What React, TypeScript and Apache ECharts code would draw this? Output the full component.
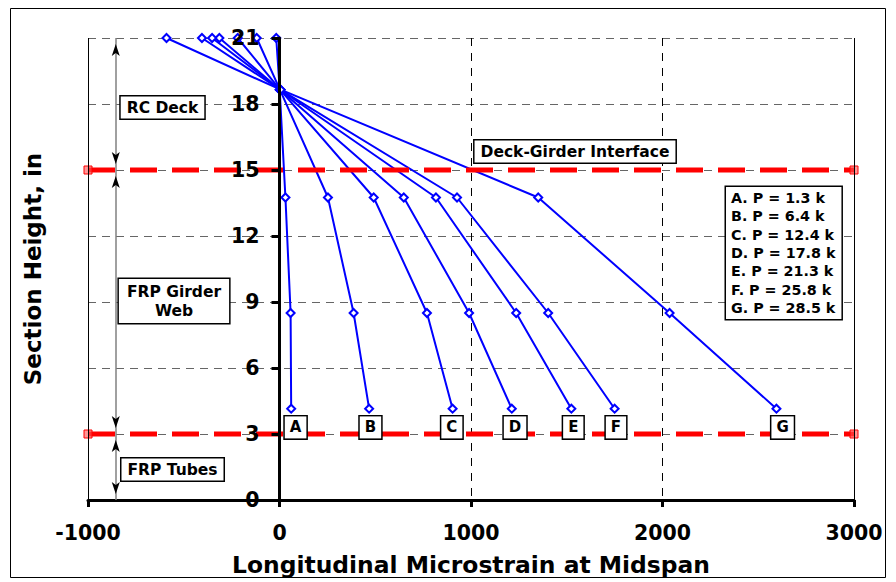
import React, { useEffect, useRef } from "react";
import * as echarts from "echarts";

// ---- data ----
const heights = [21, 18.65, 13.75, 8.5, 4.15];
const letters = ["A", "B", "C", "D", "E", "F", "G"];
const loadsK = ["1.3", "6.4", "12.4", "17.8", "21.3", "25.8", "28.5"];
const strainA = [-17, 1, 31, 58, 61];
const strainB = [-119, 2, 253, 387, 468];
const strainC = [-218, 3, 492, 770, 904];
const strainD = [-314, 3, 649, 990, 1213];
const strainE = [-352, 4, 817, 1236, 1524];
const strainF = [-405, 4, 927, 1403, 1750];
const strainG = [-590, 6, 1351, 2037, 2595];
const strainSets = [strainA, strainB, strainC, strainD, strainE, strainF, strainG];
const interfaceHeights = [15, 3];
const letterLabelX = [84, 475, 900, 1230, 1534, 1757, 2627];
const letterLabelY = 3.3;
const xTickMin = -1000;
const xTickMax = 3000;
const xTickStep = 1000;
const yTickMin = 0;
const yTickMax = 21;
const yTickStep = 3;
const zoneArrowX = -855;
const zoneBounds = [21, 15, 3, 0];

const FONT = "'DejaVu Sans', Verdana, sans-serif";
const GRID_LEFT = 88;
const GRID_RIGHT = 42;
const CHART_W = 896;
const CHART_H = 582;

export default function App() {
  const ref = useRef<HTMLDivElement>(null);

  useEffect(() => {
    if (!ref.current) return;
    const chart = echarts.init(ref.current, undefined, { renderer: "svg" });

    const gridWidth = CHART_W - GRID_LEFT - GRID_RIGHT;
    // y axis sits at strain = 0
    const yAxisOffset = -gridWidth * (0 - xTickMin) / (xTickMax - xTickMin);

    const lineSeries = strainSets.map((s, i) => ({
      name: letters[i],
      type: "line",
      data: s.map((x, j) => [x, heights[j]]),
      symbol: "emptyDiamond",
      symbolSize: 8,
      lineStyle: { color: "#0000ff", width: 2 },
      itemStyle: { color: "#0000ff", borderWidth: 1.5 },
      z: 3,
    }));

    const redStyle = {
      type: "line",
      symbol: "rect",
      symbolSize: 8,
      lineStyle: { color: "#ff0000", width: 5, type: [27, 15] },
      itemStyle: { color: "rgba(255,80,80,0.6)", borderColor: "#ff0000", borderWidth: 1 },
      z: 4,
      silent: true,
    };

    const arrowPairs: any[] = [];
    for (let i = 0; i < zoneBounds.length - 1; i++) {
      const inset = 0.27;
      arrowPairs.push([
        { coord: [zoneArrowX, zoneBounds[i] - inset] },
        { coord: [zoneArrowX, zoneBounds[i + 1] + inset] },
      ]);
    }

    const option: any = {
      animation: false,
      grid: { left: GRID_LEFT, right: GRID_RIGHT, top: 38, bottom: 82, containLabel: false },
      xAxis: {
        type: "value",
        min: xTickMin,
        max: xTickMax,
        interval: xTickStep,
        name: "Longitudinal Microstrain at Midspan",
        nameLocation: "middle",
        nameGap: 53,
        nameTextStyle: { fontFamily: FONT, fontWeight: "bold", fontSize: 23.4, color: "#000" },
        axisLine: { show: true, onZero: false, lineStyle: { color: "#000", width: 3 } },
        axisTick: { show: true, length: 7, lineStyle: { color: "#000", width: 3 } },
        axisLabel: {
          margin: 22,
          fontFamily: FONT,
          fontWeight: "bold",
          fontSize: 20.5,
          color: "#000",
          formatter: (v: number) => String(v),
        },
        splitLine: { show: true, lineStyle: { color: "#000", width: 1, type: [8, 7] } },
      },
      yAxis: [
        {
          type: "value",
          position: "left",
          min: yTickMin,
          max: yTickMax,
          interval: yTickStep,
          axisLine: { show: false, onZero: false },
          axisTick: { show: false },
          axisLabel: { show: false },
          splitLine: { show: true, lineStyle: { color: "#666", width: 1, type: [8, 6] } },
        },
        {
          type: "value",
          position: "left",
          offset: yAxisOffset,
          min: yTickMin,
          max: yTickMax,
          interval: yTickStep,
          z: 10,
          axisLine: { show: true, onZero: false, lineStyle: { color: "#000", width: 3 } },
          axisTick: { show: true, length: 8, lineStyle: { color: "#000", width: 3 } },
          axisLabel: {
            margin: 20,
            fontFamily: FONT,
            fontWeight: "bold",
            fontSize: 20.5,
            color: "#000",
            formatter: (v: number) => String(v),
          },
          splitLine: { show: false },
        },
      ],
      series: [
        ...lineSeries,
        {
          ...redStyle,
          name: "interface15",
          data: [[xTickMin, interfaceHeights[0]], [xTickMax, interfaceHeights[0]]],
          markLine: {
            silent: true,
            symbol: "none",
            label: { show: false },
            data: [
              { xAxis: xTickMin, lineStyle: { color: "#000", width: 1, type: "solid" } },
              { xAxis: xTickMax, lineStyle: { color: "#000", width: 1, type: "solid" } },
              { xAxis: zoneArrowX, lineStyle: { color: "#808080", width: 1.5, type: "solid" } },
            ],
          },
        },
        {
          ...redStyle,
          name: "interface3",
          data: [[xTickMin, interfaceHeights[1]], [xTickMax, interfaceHeights[1]]],
          markLine: {
            silent: true,
            symbol: ["arrow", "arrow"],
            symbolSize: [6, 12],
            label: { show: false },
            lineStyle: { color: "#000", width: 0, type: "solid" },
            data: arrowPairs,
          },
        },
        {
          name: "letters",
          type: "scatter",
          data: letterLabelX.map((x) => [x, letterLabelY]),
          symbolSize: 0,
          z: 6,
          silent: true,
          itemStyle: { opacity: 1, color: "#fff" },
          label: {
            show: true,
            position: "inside",
            formatter: (p: any) => letters[p.dataIndex],
            fontFamily: FONT,
            fontWeight: "bold",
            fontSize: 15,
            color: "#000",
            backgroundColor: "#fff",
            borderColor: "#000",
            borderWidth: 1.5,
            padding: [4, 5, 3, 5],
          },
        },
      ],
      graphic: [
        {
          type: "rect",
          shape: { x: 10.5, y: 8.5, width: 875, height: 569 },
          style: { fill: "none", stroke: "#000", lineWidth: 1 },
          silent: true,
        },
        {
          type: "text",
          x: 33,
          y: 269,
          rotation: Math.PI / 2,
          style: {
            text: "Section Height, in",
            font: `bold 23px ${FONT}`,
            fill: "#000",
            align: "center",
            verticalAlign: "middle",
            textAlign: "center",
            textVerticalAlign: "middle",
          },
        },
        {
          type: "text",
          x: 162.5,
          y: 107.5,
          z: 20,
          style: {
            text: "RC Deck",
            font: `bold 15.5px ${FONT}`,
            fill: "#000",
            align: "center",
            verticalAlign: "middle",
            textAlign: "center",
            textVerticalAlign: "middle",
            backgroundColor: "#fff",
            borderColor: "#000",
            borderWidth: 1.5,
            padding: [3, 6, 3, 6],
          },
        },
        {
          type: "text",
          x: 174,
          y: 301,
          z: 20,
          style: {
            text: "FRP Girder\nWeb",
            font: `bold 15.5px ${FONT}`,
            lineHeight: 19,
            fill: "#000",
            align: "center",
            verticalAlign: "middle",
            textAlign: "center",
            textVerticalAlign: "middle",
            backgroundColor: "#fff",
            borderColor: "#000",
            borderWidth: 1.5,
            padding: [3, 8, 3, 8],
          },
        },
        {
          type: "text",
          x: 172.5,
          y: 469.5,
          z: 20,
          style: {
            text: "FRP Tubes",
            font: `bold 15.5px ${FONT}`,
            fill: "#000",
            align: "center",
            verticalAlign: "middle",
            textAlign: "center",
            textVerticalAlign: "middle",
            backgroundColor: "#fff",
            borderColor: "#000",
            borderWidth: 1.5,
            padding: [3, 6, 3, 6],
          },
        },
        {
          type: "text",
          x: 575,
          y: 151.5,
          z: 20,
          style: {
            text: "Deck-Girder Interface",
            font: `bold 15.5px ${FONT}`,
            fill: "#000",
            align: "center",
            verticalAlign: "middle",
            textAlign: "center",
            textVerticalAlign: "middle",
            backgroundColor: "#fff",
            borderColor: "#000",
            borderWidth: 1.5,
            padding: [3, 6, 3, 6],
          },
        },
        {
          type: "text",
          x: 726,
          y: 187,
          z: 20,
          style: {
            text: letters.map((l, i) => `${l}. P = ${loadsK[i]} k`).join("\n"),
            font: `bold 14.3px ${FONT}`,
            lineHeight: 18.3,
            fill: "#000",
            align: "left",
            verticalAlign: "top",
            textAlign: "left",
            textVerticalAlign: "top",
            backgroundColor: "#fff",
            borderColor: "#000",
            borderWidth: 1.5,
            padding: [2, 6, 2, 5],
          },
        },
      ],
    };

    chart.setOption(option);
    return () => chart.dispose();
  }, []);

  return (
    <div
      ref={ref}
      style={{ position: "absolute", left: 0, top: 0, width: CHART_W, height: CHART_H, background: "#fff" }}
    />
  );
}
